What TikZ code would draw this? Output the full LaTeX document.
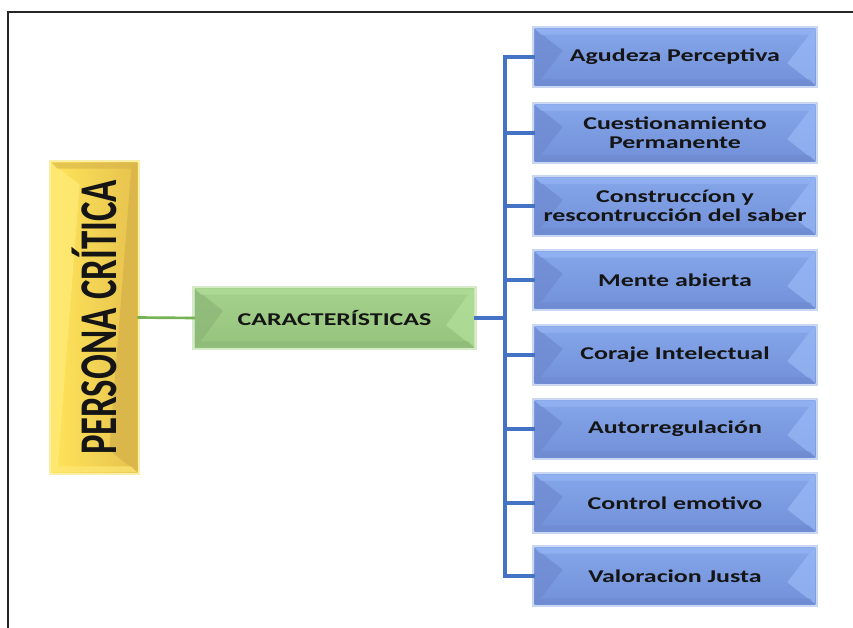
\documentclass[tikz,border=0pt]{standalone}
\usepackage{fontspec}
\setmainfont{Carlito}
\newfontfamily\wfont[FakeStretch=1.44]{Carlito}
\usetikzlibrary{calc,backgrounds}
\definecolor{bTop}{HTML}{86A6EA}
\definecolor{bBot}{HTML}{7190D8}
\definecolor{bLight}{HTML}{98B7F5}
\definecolor{bDark}{HTML}{6E8AD0}
\definecolor{bGlow}{HTML}{CAD7F3}
\definecolor{gTop}{HTML}{A4D28C}
\definecolor{gBot}{HTML}{96C47E}
\definecolor{gLight}{HTML}{B2E09A}
\definecolor{gDark}{HTML}{8CB676}
\definecolor{gGlow}{HTML}{D5EBC8}
\definecolor{yLeft}{HTML}{FFE45A}
\definecolor{yRight}{HTML}{E6C24E}
\definecolor{yLight}{HTML}{FFEB78}
\definecolor{yDark}{HTML}{D6B24A}
\definecolor{yGlow}{HTML}{FBEFA8}
\definecolor{lineBlue}{HTML}{4472C4}
\definecolor{lineGreen}{HTML}{77B255}
\definecolor{txt}{HTML}{151515}
\newcommand\bev[5]{%
\begin{pgfonlayer}{background}
\fill[#5] ($(#1.north west)+(-2.5,-2.5)$) rectangle ($(#1.south east)+(2.5,2.5)$);
\shade[#2] (#1.north west) rectangle (#1.south east);
\fill[#4,opacity=0.75] (#1.north west) -- ($(#1.north west)+(28,22)$) -- ($(#1.south west)+(6,-6)$) -- (#1.south west) -- cycle;
\fill[#3,opacity=0.75] (#1.south east) -- ($(#1.south east)+(-28,-22)$) -- ($(#1.north east)+(-6,6)$) -- (#1.north east) -- cycle;
\fill[#3,opacity=0.6] (#1.north west) -- (#1.north east) -- ($(#1.north east)+(-6,6)$) -- ($(#1.north west)+(6,6)$) -- cycle;
\fill[#4,opacity=0.6] (#1.south west) -- (#1.south east) -- ($(#1.south east)+(-6,-6)$) -- ($(#1.south west)+(6,-6)$) -- cycle;
\end{pgfonlayer}}
\tikzset{
  bluebox/.style={minimum width=210pt, minimum height=42pt, inner sep=0pt, align=center, text=txt,
    font=\wfont\bfseries\fontsize{13.5}{14.5}\selectfont},
  bluecon/.style={draw=lineBlue, line width=2.6pt},
}
\begin{document}
\begin{tikzpicture}[x=0.75pt,y=-0.75pt]
\useasboundingbox (0,0) rectangle (853,628);
\draw[line width=1.1pt, black!85] (8,628) -- (8,12) -- (853,12);

\node[minimum width=63.75pt, minimum height=231.75pt, inner sep=0pt] (pc) at (94.5,317.5) {};
\node[rotate=90, inner sep=0pt, text=txt, font=\bfseries\fontsize{27.6}{30}\selectfont] (pct) at (pc.center) {\scalebox{1}[1.44]{PERSONA CRÍTICA}};
\bev{pc}{left color=yLeft, right color=yRight}{yDark}{yLight}{yGlow}

\node[minimum width=209pt, minimum height=43.5pt, inner sep=0pt, text=txt, font=\wfont\bfseries\fontsize{13.5}{14.5}\selectfont] (car) at (334.5,318) {CARACTERÍSTICAS};
\bev{car}{top color=gTop, bottom color=gBot}{gLight}{gDark}{gGlow}

\node[bluebox] (b1) at (675,57) {Agudeza Perceptiva};
\node[bluebox] (b2) at (675,133) {Cuestionamiento\\Permanente};
\node[bluebox] (b3) at (675,206) {Construccíon y\\rescontrucción del saber};
\node[bluebox] (b4) at (675,280) {Mente abierta};
\node[bluebox] (b5) at (675,355) {Coraje Intelectual};
\node[bluebox] (b6) at (675,429) {Autorregulación};
\node[bluebox] (b7) at (675,503) {Control emotivo};
\node[bluebox] (b8) at (675,576) {Valoracion Justa};
\foreach \n in {b1,b2,b3,b4,b5,b6,b7,b8}{\bev{\n}{top color=bTop, bottom color=bBot}{bLight}{bDark}{bGlow}}

\coordinate (trunk) at (505,318);
\draw[lineGreen, line width=2pt] (pc.east) -- (car.west);
\draw[bluecon] (car.east) -- (trunk);
\draw[bluecon] (b1.west) -- (b1.west -| trunk) -- (b8.west -| trunk) -- (b8.west);
\foreach \n in {b2,b3,b4,b5,b6,b7}{\draw[bluecon] (\n.west) -- (\n.west -| trunk);}
\end{tikzpicture}
\end{document}
